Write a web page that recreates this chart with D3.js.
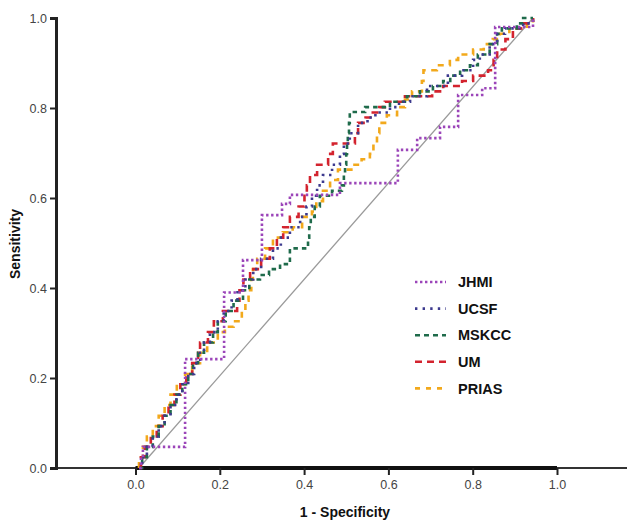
<!DOCTYPE html>
<meta charset="utf-8">
<title>ROC curves</title>
<body>
<script src="https://cdn.jsdelivr.net/npm/d3@7"></script>
<style>
html, body {
    margin: 0;
    background: #fff;
}
svg {
    display: block;
    font-family: Arial, "Liberation Sans", sans-serif;
}
</style>
<script>
var width = 627,
    height = 520;

// ROC points [1 - specificity, sensitivity]
var jhmi = [[0,0],[0.005,0.024],[0.01,0.047],[0.117,0.242],[0.216,0.39],[0.264,0.462],[0.312,0.562],
    [0.363,0.587],[0.383,0.607],[0.51,0.633],[0.657,0.707],[0.706,0.733],[0.764,0.758],[0.81,0.829],
    [0.871,0.844],[0.904,0.98],[1,1]];

var ucsf = [[0,0],[0.008,0.024],[0.02,0.047],[0.035,0.07],[0.05,0.093],[0.065,0.116],[0.08,0.14],
    [0.095,0.163],[0.11,0.186],[0.125,0.209],[0.14,0.233],[0.155,0.256],[0.165,0.279],[0.18,0.302],
    [0.2,0.326],[0.215,0.349],[0.235,0.372],[0.25,0.395],[0.27,0.419],[0.29,0.442],[0.31,0.465],
    [0.34,0.488],[0.36,0.512],[0.383,0.535],[0.409,0.558],[0.425,0.581],[0.439,0.605],[0.452,0.628],
    [0.467,0.651],[0.49,0.674],[0.51,0.698],[0.52,0.721],[0.535,0.744],[0.556,0.767],[0.58,0.779],
    [0.6,0.79],[0.637,0.802],[0.66,0.814],[0.688,0.826],[0.731,0.849],[0.784,0.872],[0.82,0.884],
    [0.848,0.907],[0.865,0.919],[0.89,0.942],[0.909,0.965],[0.929,0.977],[0.975,0.988],[1,1]];

var mskcc = [[0,0],[0.008,0.024],[0.02,0.047],[0.035,0.07],[0.05,0.093],[0.065,0.116],[0.08,0.14],
    [0.095,0.163],[0.11,0.186],[0.125,0.209],[0.137,0.233],[0.15,0.256],[0.165,0.279],[0.188,0.302],
    [0.2,0.326],[0.22,0.349],[0.24,0.372],[0.264,0.395],[0.28,0.419],[0.307,0.429],[0.33,0.442],
    [0.358,0.453],[0.383,0.488],[0.429,0.512],[0.432,0.535],[0.436,0.558],[0.446,0.581],[0.459,0.605],
    [0.49,0.616],[0.515,0.628],[0.52,0.651],[0.523,0.674],[0.526,0.698],[0.528,0.721],[0.53,0.744],
    [0.533,0.767],[0.535,0.791],[0.574,0.802],[0.637,0.814],[0.68,0.826],[0.713,0.837],[0.746,0.849],
    [0.772,0.86],[0.79,0.872],[0.815,0.884],[0.84,0.895],[0.86,0.919],[0.89,0.942],[0.909,0.965],
    [0.921,0.977],[0.959,0.988],[0.975,1],[1,1]];

var um = [[0,0],[0.005,0.024],[0.015,0.047],[0.03,0.07],[0.045,0.093],[0.06,0.116],[0.075,0.14],
    [0.09,0.163],[0.105,0.186],[0.12,0.209],[0.135,0.233],[0.15,0.256],[0.155,0.279],[0.175,0.302],
    [0.19,0.326],[0.213,0.349],[0.249,0.372],[0.255,0.395],[0.265,0.419],[0.282,0.442],[0.31,0.465],
    [0.332,0.488],[0.35,0.512],[0.366,0.535],[0.383,0.558],[0.405,0.581],[0.42,0.605],[0.426,0.628],
    [0.434,0.651],[0.452,0.674],[0.48,0.698],[0.492,0.721],[0.548,0.744],[0.556,0.767],[0.575,0.779],
    [0.59,0.79],[0.61,0.802],[0.624,0.814],[0.675,0.826],[0.744,0.837],[0.772,0.849],[0.82,0.86],
    [0.848,0.872],[0.886,0.884],[0.9,0.907],[0.909,0.93],[0.93,0.953],[0.949,0.977],[0.97,0.988],[1,1]];

var prias = [[0,0],[0,0.024],[0.01,0.047],[0.02,0.07],[0.035,0.093],[0.05,0.116],[0.065,0.14],
    [0.08,0.163],[0.096,0.186],[0.117,0.209],[0.135,0.233],[0.155,0.256],[0.173,0.279],[0.2,0.302],
    [0.218,0.314],[0.24,0.326],[0.261,0.349],[0.27,0.372],[0.278,0.395],[0.285,0.419],[0.289,0.442],
    [0.3,0.465],[0.32,0.488],[0.34,0.512],[0.365,0.524],[0.39,0.535],[0.414,0.558],[0.439,0.57],
    [0.45,0.593],[0.467,0.616],[0.485,0.64],[0.505,0.663],[0.543,0.674],[0.565,0.686],[0.586,0.698],
    [0.595,0.721],[0.604,0.744],[0.61,0.767],[0.629,0.784],[0.655,0.802],[0.675,0.819],[0.693,0.837],
    [0.718,0.86],[0.722,0.884],[0.756,0.895],[0.789,0.907],[0.81,0.919],[0.848,0.93],[0.875,0.942],
    [0.898,0.953],[0.916,0.965],[0.94,0.977],[0.985,0.988],[1,1]];

var names = ["JHMI", "UCSF", "MSKCC", "UM", "PRIAS"];
var ticks = [0, 0.2, 0.4, 0.6, 0.8, 1.0];

var series = [
    { name: names[0], values: jhmi,  color: "#9b45b9", dash: "2.4,2.6", legendDash: "2.4,2.6" },
    { name: names[1], values: ucsf,  color: "#3d3a8e", dash: "2.4,4.6", legendDash: "2.4,5.2" },
    { name: names[2], values: mskcc, color: "#1f6b4b", dash: "4.5,4",   legendDash: "5,4" },
    { name: names[3], values: um,    color: "#d3232e", dash: "7,5",     legendDash: "7,5" },
    { name: names[4], values: prias, color: "#f2a91c", dash: "6,5.5",   legendDash: "5,6" }
];

// the printed figure's curves sit slightly inside the tick marks, so two x scales
var xTick = d3.scaleLinear().domain([0, 1]).range([135.5, 557]),
    x = d3.scaleLinear().domain([0, 1]).range([139, 533]),
    y = d3.scaleLinear().domain([0, 1]).range([468, 18]);

var svg = d3.select("body").append("svg")
    .attr("width", width)
    .attr("height", height);

// frame lines
svg.append("line")
    .attr("x1", 56).attr("x2", width)
    .attr("y1", y(0)).attr("y2", y(0))
    .attr("stroke", "#333").attr("stroke-width", 2);

svg.append("line")
    .attr("x1", xTick(0)).attr("x2", xTick(1))
    .attr("y1", y(0)).attr("y2", y(0))
    .attr("stroke", "#111").attr("stroke-width", 4);

var yAxis = svg.append("g")
    .attr("transform", "translate(56,0)")
    .call(d3.axisLeft(y).tickValues(ticks).tickFormat(d3.format(".1f")).tickSize(6).tickPadding(3));

var xAxis = svg.append("g")
    .attr("transform", "translate(0," + y(0) + ")")
    .call(d3.axisBottom(xTick).tickValues(ticks).tickFormat(d3.format(".1f")).tickSize(7).tickPadding(5));

[xAxis, yAxis].forEach(function(g) {
    g.select(".domain").attr("stroke", "#222").attr("stroke-width", 3);
    g.selectAll(".tick line").attr("stroke", "#222").attr("stroke-width", 2);
    g.selectAll(".tick text")
        .attr("fill", "#444")
        .style("font-size", "12.5px")
        .style("font-family", "Arial, 'Liberation Sans', sans-serif");
});
xAxis.select(".domain").remove();

// reference diagonal
svg.append("line")
    .attr("x1", x(0)).attr("y1", y(0))
    .attr("x2", x(1)).attr("y2", y(1))
    .attr("stroke", "#9a9a9a")
    .attr("stroke-width", 1.3);

var line = d3.line()
    .x(function(d) { return x(d[0]); })
    .y(function(d) { return y(d[1]); })
    .curve(d3.curveStepAfter);

svg.selectAll("path.roc")
    .data(series.slice().reverse())
    .enter().append("path")
    .attr("class", "roc")
    .attr("fill", "none")
    .attr("stroke", function(d) { return d.color; })
    .attr("stroke-width", 2.6)
    .attr("stroke-dasharray", function(d) { return d.dash; })
    .attr("d", function(d) { return line(d.values); });

// legend
var legend = svg.append("g").attr("transform", "translate(415,282)");

var item = legend.selectAll("g")
    .data(series)
    .enter().append("g")
    .attr("transform", function(d, i) { return "translate(0," + (i * 26.6) + ")"; });

item.append("line")
    .attr("x1", 0).attr("x2", 31)
    .attr("stroke", function(d) { return d.color; })
    .attr("stroke-width", 2.6)
    .attr("stroke-dasharray", function(d) { return d.legendDash; });

item.append("text")
    .attr("x", 43)
    .attr("dy", "0.36em")
    .attr("fill", "#111")
    .style("font-size", "14.5px")
    .style("font-weight", "bold")
    .text(function(d) { return d.name; });

// axis titles
svg.append("text")
    .attr("transform", "translate(20,244) rotate(-90)")
    .attr("text-anchor", "middle")
    .attr("fill", "#111")
    .style("font-size", "14px")
    .style("font-weight", "bold")
    .text("Sensitivity");

svg.append("text")
    .attr("x", 345)
    .attr("y", 517)
    .attr("text-anchor", "middle")
    .attr("fill", "#111")
    .style("font-size", "14px")
    .style("font-weight", "bold")
    .text("1 - Specificity");
</script>
